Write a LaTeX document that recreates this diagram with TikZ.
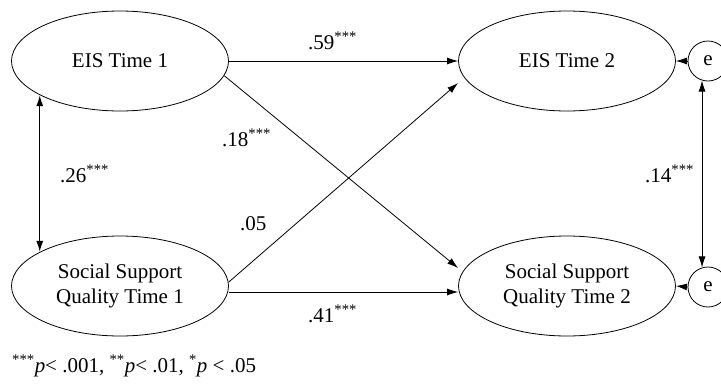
\documentclass[tikz,border=0pt]{standalone}
\usepackage{fontspec}
\setmainfont{Liberation Serif}
\usetikzlibrary{shapes.geometric,arrows.meta}
\begin{document}
\begin{tikzpicture}[x=1pt,y=-1pt,
  every node/.style={font=\fontsize{21}{25}\selectfont},
  lat/.style={ellipse, draw, line width=0.8pt, minimum width=217pt, minimum height=100pt, inner sep=0pt, align=center},
  err/.style={circle, draw, line width=0.8pt, minimum size=40pt, inner sep=0pt},
  lbl/.style={anchor=base west, inner sep=0pt},
  path/.style={line width=0.8pt, -{Latex[length=11pt,width=7pt]}},
  cov/.style={line width=0.8pt, {Latex[length=11pt,width=7pt]}-{Latex[length=11pt,width=7pt]}}]
\useasboundingbox (0,0) rectangle (721,389);
\node[lat] (eis1) at (120,61){EIS Time 1};
\node[lat] (ssq1) at (120,286){Social Support\\Quality Time 1};
\node[lat] (eis2) at (567,61){EIS Time 2};
\node[lat] (ssq2) at (567,286){Social Support\\Quality Time 2};
\node[err] (e1) at (708,61){e};
\node[err] (e2) at (708,287){e};
\draw[cov, line width=1.4pt](eis1.203) -- (ssq1.157);
\draw[path](eis1.east) -- (eis2.west);
\draw[path]([yshift=-6pt]ssq1.east) -- ([yshift=-6pt]ssq2.west);
\draw[path](eis1.-8) -- ([yshift=18pt]ssq2.west);
\draw[path](ssq1.2) -- ([yshift=-22pt]eis2.west);
\draw[path](e1.west) -- (eis2.east);
\draw[path](e2.west) -- (ssq2.east);
\draw[cov](e1.253) -- (e2.107);

\node[lbl] (l59) at (308,49){.59\textsuperscript{***}};
\node[lbl] (l18) at (222,146){.18\textsuperscript{***}};
\node[lbl] (l26) at (60,182){.26\textsuperscript{***}};
\node[lbl] (l05) at (240,230){.05};
\node[lbl] (l41) at (308,322){.41\textsuperscript{***}};
\node[lbl] (l14) at (645,182){.14\textsuperscript{***}};
\node[lbl] (note) at (12,372){\textsuperscript{***}\textit{p}< .001, \textsuperscript{**}\textit{p}< .01, \textsuperscript{*}\textit{p} < .05};

\end{tikzpicture}
\end{document}
